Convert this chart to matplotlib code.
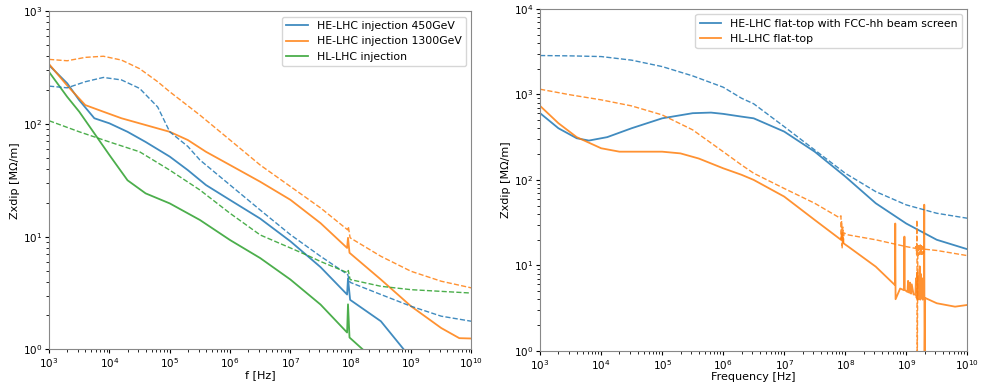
import numpy as np
import matplotlib
matplotlib.use("Agg")
import matplotlib.pyplot as plt

# values are log10(f [Hz]) and log10(Zxdip [MOhm/m])

# ---- left panel: injection ----
he450_f = [3.0, 3.3, 3.5, 3.75, 4.0, 4.3, 4.6, 5.0, 5.3, 5.6, 6.0, 6.5, 7.0, 7.5, 7.94, 7.955, 7.99, 8.5, 8.88]
he450_z = [2.52, 2.36, 2.21, 2.05, 2.005, 1.93, 1.84, 1.71, 1.59, 1.458, 1.325, 1.16, 0.959, 0.73, 0.487, 0.63, 0.44, 0.25, 0.0]
he450d_f = [3.0, 3.3, 3.6, 3.9, 4.2, 4.5, 4.8, 5.0, 5.3, 5.5, 6.0, 6.5, 7.0, 7.5, 7.95, 7.99, 8.5, 9.0, 9.5, 10.0]
he450d_z = [2.335, 2.32, 2.374, 2.412, 2.39, 2.315, 2.15, 1.93, 1.80, 1.68, 1.458, 1.236, 1.018, 0.826, 0.664, 0.595, 0.487, 0.383, 0.295, 0.25]

he1300_f = [3.0, 3.3, 3.6, 3.9, 4.2, 4.5, 5.0, 5.3, 5.6, 6.0, 6.5, 7.0, 7.5, 7.94, 7.955, 7.98, 8.5, 9.0, 9.5, 9.8, 10.0]
he1300_z = [2.53, 2.34, 2.167, 2.108, 2.05, 2.005, 1.93, 1.857, 1.753, 1.635, 1.487, 1.327, 1.12, 0.9, 0.99, 0.857, 0.62, 0.383, 0.19, 0.10, 0.097]
he1300d_f = [3.0, 3.3, 3.6, 3.9, 4.2, 4.5, 4.8, 5.0, 5.5, 6.0, 6.5, 7.0, 7.5, 7.95, 7.96, 7.99, 8.5, 9.0, 9.5, 10.0]
he1300d_z = [2.572, 2.56, 2.59, 2.60, 2.566, 2.49, 2.374, 2.285, 2.078, 1.857, 1.635, 1.445, 1.255, 1.06, 1.09, 0.99, 0.826, 0.693, 0.605, 0.546]

hlinj_f = [3.0, 3.3, 3.5, 3.75, 4.0, 4.3, 4.6, 5.0, 5.5, 6.0, 6.5, 7.0, 7.5, 7.94, 7.955, 7.98, 8.2]
hlinj_z = [2.46, 2.24, 2.108, 1.916, 1.724, 1.50, 1.384, 1.295, 1.148, 0.97, 0.81, 0.62, 0.398, 0.15, 0.40, 0.106, 0.0]
hlinjd_f = [3.0, 3.5, 4.0, 4.5, 5.0, 5.5, 6.0, 6.5, 7.0, 7.3, 7.5, 7.95, 7.96, 7.99, 8.5, 9.0, 10.0]
hlinjd_z = [2.028, 1.93, 1.84, 1.753, 1.59, 1.414, 1.207, 1.015, 0.90, 0.83, 0.78, 0.68, 0.70, 0.62, 0.56, 0.53, 0.50]

# ---- right panel: flat-top ----
heft_f = [3.0, 3.3, 3.6, 3.8, 4.1, 4.5, 5.0, 5.5, 5.8, 6.0, 6.3, 6.5, 7.0, 7.5, 8.0, 8.5, 9.0, 9.5, 10.0]
heft_z = [2.78, 2.604, 2.487, 2.46, 2.50, 2.604, 2.72, 2.78, 2.787, 2.772, 2.74, 2.72, 2.565, 2.33, 2.04, 1.727, 1.49, 1.30, 1.19]
heftd_f = [3.0, 3.5, 4.0, 4.5, 5.0, 5.5, 6.0, 6.3, 6.5, 7.0, 7.5, 8.0, 8.5, 9.0, 9.5, 10.0]
heftd_z = [3.454, 3.45, 3.442, 3.40, 3.325, 3.216, 3.084, 2.955, 2.89, 2.623, 2.35, 2.078, 1.863, 1.708, 1.61, 1.552]

hlft_f = [3.0, 3.3, 3.6, 4.0, 4.3, 4.6, 5.0, 5.3, 5.6, 6.0, 6.3, 6.5, 7.0, 7.5, 7.93, 7.95, 7.97, 8.05, 8.5,
          8.815, 8.82, 8.825, 8.9, 8.965, 8.97, 8.975, 9.02, 9.03, 9.05, 9.06, 9.08, 9.09, 9.12,
          9.15, 9.16, 9.17, 9.18, 9.19, 9.2, 9.21, 9.22, 9.23, 9.24, 9.25, 9.26, 9.27, 9.28, 9.29,
          9.295, 9.3, 9.31, 9.5, 9.8, 10.0]
hlft_z = [2.865, 2.663, 2.50, 2.37, 2.33, 2.33, 2.33, 2.31, 2.25, 2.136, 2.06, 2.0, 1.805, 1.532, 1.30, 1.38, 1.26, 1.22, 0.986,
          0.77, 1.49, 0.605, 0.73, 0.71, 1.337, 0.714, 0.69, 0.82, 0.68, 0.80, 0.67, 0.78, 0.66,
          0.66, 0.85, 0.62, 0.92, 0.60, 0.88, 0.62, 0.99, 0.60, 0.90, 0.62, 0.85, 0.60, 0.80, 0.62,
          1.71, -0.3, 0.62, 0.558, 0.518, 0.538]
hlftd_f = [3.0, 3.5, 4.0, 4.5, 5.0, 5.5, 6.0, 6.3, 6.5, 7.0, 7.5, 7.9, 7.93, 7.935, 7.94, 7.95, 7.96, 7.97, 7.98, 8.05, 8.5,
           9.0, 9.15, 9.16, 9.17, 9.175, 9.18, 9.19, 9.2, 9.21, 9.22, 9.23, 9.24, 9.25, 9.26, 9.27, 9.28, 9.3, 9.5, 10.0]
hlftd_z = [3.06, 2.994, 2.936, 2.865, 2.76, 2.585, 2.33, 2.175, 2.078, 1.90, 1.727, 1.56, 1.58, 1.30, 1.52, 1.20, 1.45, 1.25, 1.38, 1.357, 1.30,
           1.22, 1.20, 1.24, 1.13, 1.53, -0.3, 1.24, 1.12, 1.25, 1.13, 1.24, 1.12, 1.23, 1.13, 1.22, 1.14, 1.19, 1.175, 1.115]

blue = "#1f77b4"
orange = "#ff7f0e"
green = "#2ca02c"


def draw(ax, f, z, color, dashed=False, label=None):
    f = 10 ** np.array(f)
    z = 10 ** np.array(z)
    if dashed:
        ax.plot(f, z, color=color, lw=1.0, ls="--", alpha=0.85)
    else:
        ax.plot(f, z, color=color, lw=1.3, alpha=0.85, label=label)


plt.rcParams["font.size"] = 8
plt.rcParams["xtick.labelsize"] = 7.5
plt.rcParams["ytick.labelsize"] = 7.5
plt.rcParams["xtick.major.pad"] = 2
plt.rcParams["ytick.major.pad"] = 2
plt.rcParams["xtick.major.size"] = 3
plt.rcParams["ytick.major.size"] = 3

fig = plt.figure(figsize=(9.82, 3.84), dpi=100)

ax1 = fig.add_axes([0.050, 0.090, 0.430, 0.881])
draw(ax1, he450_f, he450_z, blue, label="HE-LHC injection 450GeV")
draw(ax1, he1300_f, he1300_z, orange, label="HE-LHC injection 1300GeV")
draw(ax1, hlinj_f, hlinj_z, green, label="HL-LHC injection")
draw(ax1, he450d_f, he450d_z, blue, dashed=True)
draw(ax1, he1300d_f, he1300d_z, orange, dashed=True)
draw(ax1, hlinjd_f, hlinjd_z, green, dashed=True)
ax1.set_xscale("log")
ax1.set_yscale("log")
ax1.set_xlim(1e3, 1e10)
ax1.set_ylim(1, 1e3)
ax1.set_yticks(10.0 ** np.arange(0, 4))
ax1.set_xlabel("f [Hz]", labelpad=0)
ax1.set_ylabel("Zxdip [MΩ/m]", labelpad=2)
ax1.legend(loc="upper right", fontsize=7.8)

ax2 = fig.add_axes([0.550, 0.086, 0.435, 0.891])
draw(ax2, heft_f, heft_z, blue, label="HE-LHC flat-top with FCC-hh beam screen")
draw(ax2, hlft_f, hlft_z, orange, label="HL-LHC flat-top")
draw(ax2, heftd_f, heftd_z, blue, dashed=True)
draw(ax2, hlftd_f, hlftd_z, orange, dashed=True)
ax2.set_xscale("log")
ax2.set_yscale("log")
ax2.set_xlim(1e3, 1e10)
ax2.set_ylim(1, 1e4)
ax2.set_yticks(10.0 ** np.arange(0, 5))
ax2.set_xlabel("Frequency [Hz]", labelpad=0)
ax2.set_ylabel("Zxdip [MΩ/m]", labelpad=2)
ax2.legend(loc="upper right", fontsize=7.8)

for ax in (ax1, ax2):
    ax.set_xticks(10.0 ** np.arange(3, 11))
    for s in ax.spines.values():
        s.set_color("#888888")

fig.savefig("out.png", dpi=100)
